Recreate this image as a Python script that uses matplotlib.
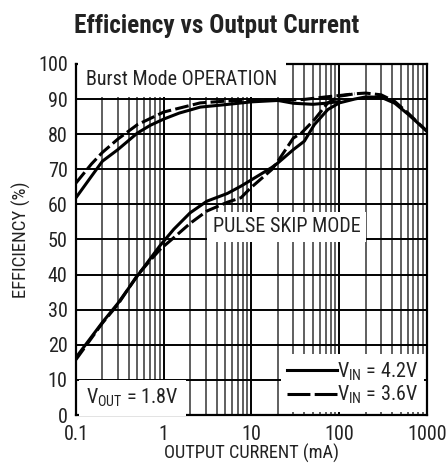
import numpy as np
import matplotlib
matplotlib.use("Agg")
import matplotlib.pyplot as plt
from matplotlib import font_manager as fm
from matplotlib.lines import Line2D
from matplotlib.ticker import FixedLocator, NullFormatter, FixedFormatter

# condensed sans, close to the datasheet font
narrow = "DejaVu Sans"
for fam in ["Roboto Condensed", "Archivo Narrow", "PT Sans Narrow", "Barlow Semi Condensed"]:
    try:
        fm.findfont(fm.FontProperties(family=fam), fallback_to_default=False)
        narrow = fam
        break
    except ValueError:
        pass

plt.rcParams['font.family'] = [narrow, 'DejaVu Sans']
plt.rcParams['mathtext.fontset'] = 'custom'
plt.rcParams['mathtext.rm'] = narrow
plt.rcParams['mathtext.it'] = narrow
plt.rcParams['mathtext.default'] = 'regular'

# Burst Mode, VIN = 4.2V (solid)
burst_42_x = [0.1, 0.15, 0.2, 0.3, 0.5, 0.7, 1, 1.5, 2.6, 5, 10, 20, 30, 50, 70, 100]
burst_42_y = [61.9, 68.0, 72.3, 75.6, 80.3, 82.5, 84.3, 86.0, 87.7, 88.4, 89.2, 89.6, 88.8, 88.5, 88.8, 89.3]
# Burst Mode, VIN = 3.6V (dashed)
burst_36_x = [0.1, 0.15, 0.2, 0.3, 0.5, 1, 2.6, 5, 10, 20, 40, 70, 100, 150]
burst_36_y = [66.1, 71.5, 74.8, 78.6, 82.7, 86.3, 88.9, 89.4, 89.7, 89.6, 89.9, 90.6, 91.0, 91.5]
# Pulse skip, VIN = 4.2V (solid)
pulse_42_x = [0.1, 0.2, 0.3, 0.5, 0.7, 0.91, 1.3, 2, 3.1, 5.3, 7.6, 12, 17, 20, 30, 40,
              52, 74, 100, 150, 200, 300, 430, 620, 1000]
pulse_42_y = [16.4, 26.4, 31.8, 39.6, 44.5, 48.3, 52.9, 57.6, 60.9, 63.1, 65.2, 68.2, 70.5,
              71.8, 75.6, 78.0, 82.7, 87.0, 88.9, 90.0, 90.6, 90.5, 88.8, 85.5, 80.8]
# Pulse skip, VIN = 3.6V (dashed)
pulse_36_x = [0.1, 0.2, 0.3, 0.5, 0.7, 0.91, 1.3, 2, 3.1, 5.3, 7.6, 9.8, 17, 20, 30, 37,
              52, 74, 100, 150, 200, 300, 430, 620, 1000]
pulse_36_y = [15.8, 26.2, 31.5, 39.8, 44.0, 47.2, 50.5, 54.6, 58.1, 60.6, 61.9, 64.7, 69.9,
              72.3, 78.9, 80.3, 84.1, 88.9, 90.8, 91.5, 91.7, 91.2, 89.3, 85.8, 80.8]

x_ticks = [0.1, 1, 10, 100, 1000]
x_labels = ["0.1", "1", "10", "100", "1000"]
y_ticks = list(range(0, 101, 10))

fig = plt.figure(figsize=(4.46, 4.65), dpi=100)
ax = fig.add_axes([0.1704, 0.1075, 0.7870, 0.7550])

lw = 2.2
dash = (0, (4.5, 1.4))
ax.plot(burst_42_x, burst_42_y, color="black", lw=lw, zorder=4)
ax.plot(pulse_42_x, pulse_42_y, color="black", lw=lw, zorder=4)
ax.plot(burst_36_x, burst_36_y, color="black", lw=lw, ls=dash, zorder=4)
ax.plot(pulse_36_x, pulse_36_y, color="black", lw=lw, ls=dash, zorder=4)

ax.set_xscale("log")
ax.set_xlim(0.1, 1000)
ax.set_ylim(0, 100)
ax.xaxis.set_major_locator(FixedLocator(x_ticks))
ax.xaxis.set_major_formatter(FixedFormatter(x_labels))
minors = [m * 10.0 ** e for e in range(-1, 3) for m in range(2, 10)]
ax.xaxis.set_minor_locator(FixedLocator(minors))
ax.xaxis.set_minor_formatter(NullFormatter())
ax.set_yticks(y_ticks)
ax.tick_params(which="both", length=0, labelsize=14.5, colors="#222222")
ax.tick_params(axis="y", pad=6)
ax.tick_params(axis="x", pad=7)
ax.set_axisbelow(True)
ax.grid(which="major", axis="both", color="black", lw=1.4)
ax.grid(which="minor", axis="x", color="#444444", lw=1.2)
for s in ax.spines.values():
    s.set_linewidth(1.6)

ax.set_xlabel("OUTPUT CURRENT (mA)", fontsize=13.2, labelpad=0, color="#222222")
ax.set_ylabel("EFFICIENCY (%)", fontsize=13.5, labelpad=5, color="#222222")
fig.text(0.486, 0.944, "Efficiency vs Output Current", ha="center", va="center",
         fontsize=18.2, fontweight="bold", color="#222222")

ax.text(0.13, 95.6, "Burst Mode OPERATION", fontsize=14.5, ha="left", va="center",
        color="#222222", bbox=dict(facecolor="white", edgecolor="none", pad=6), zorder=3)
ax.text(3.6, 53.6, "PULSE SKIP MODE", fontsize=14.5, ha="left", va="center",
        color="#222222", bbox=dict(facecolor="white", edgecolor="none", pad=4), zorder=3)
ax.text(0.13, 4.9, r"$V_{OUT}$ = 1.8V", fontsize=14.5, ha="left", va="center",
        color="#222222", bbox=dict(facecolor="white", edgecolor="none", pad=5), zorder=3)

handles = [Line2D([], [], color="black", lw=lw),
           Line2D([], [], color="black", lw=lw, ls=(0, (7.5, 1.4)))]
leg = ax.legend(handles, [r"$V_{IN}$ = 4.2V", r"$V_{IN}$ = 3.6V"], loc="lower right",
                fontsize=14.5, frameon=True, fancybox=False, framealpha=1,
                edgecolor="none", facecolor="white", borderaxespad=0.15,
                handlelength=2.45, handletextpad=0.0, borderpad=0.3, labelspacing=0.05)
for t in leg.get_texts():
    t.set_color("#222222")
leg.set_zorder(5)

fig.savefig("out.png", dpi=100)
